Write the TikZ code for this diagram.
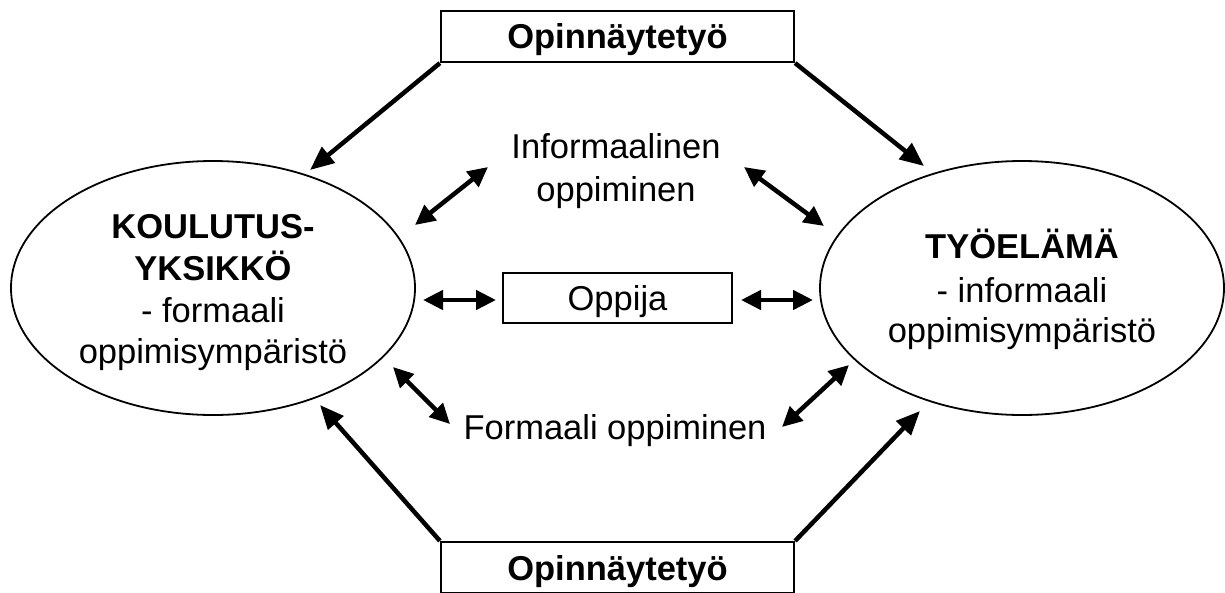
\documentclass[tikz,border=0pt]{standalone}
\usepackage{fontspec}
\setmainfont{Liberation Sans}
\usetikzlibrary{shapes.geometric,arrows.meta}
\begin{document}
\begin{tikzpicture}[x=1pt,y=-1pt,
  txt/.style={font=\fontsize{34.5}{41.5}\selectfont, inner sep=0pt},
  btxt/.style={font=\fontsize{34.5}{41.5}\selectfont\bfseries, inner sep=0pt},
  env/.style={draw, ellipse, line width=1.8pt, inner sep=0pt, minimum width=404pt, minimum height=254pt},
  boxed/.style={draw, line width=2.2pt, inner sep=0pt},
  bigarrow/.style={line width=4.5pt, -{Triangle[length=24pt,width=20pt]}},
  dblarrow/.style={line width=4.5pt, {Triangle[length=20pt,width=19pt]}-{Triangle[length=20pt,width=19pt]}}
]
\useasboundingbox (0,0) rectangle (1225,592);
\fill[white] (0,0) rectangle (1225,592);

% boxes
\node[boxed, minimum width=353pt, minimum height=51pt] (top) at (617.5,36.5) {};
\node[btxt, anchor=base] (toptxt) at (617.5,48) {Opinnäytetyö};
\node[boxed, minimum width=353pt, minimum height=51pt] (bot) at (617.5,567.5) {};
\node[btxt, anchor=base] (bottxt) at (617.5,580) {Opinnäytetyö};
\node[boxed, minimum width=229pt, minimum height=50pt] (oppija) at (617.5,298) {};
\node[txt, anchor=base] (oppijatxt) at (617.5,310) {Oppija};

% ellipses
\node[env] (koulu) at (213,288) {};
\node[btxt, anchor=base] (k1) at (213,238) {KOULUTUS-};
\node[btxt, anchor=base] (k2) at (213,280) {YKSIKKÖ};
\node[txt, anchor=base] (k3) at (213,322) {- formaali};
\node[txt, anchor=base] (k4) at (213,363) {oppimisympäristö};

\node[env] (tyo) at (1022,288) {};
\node[btxt, anchor=base] (t1) at (1022,258) {TYÖELÄMÄ};
\node[txt, anchor=base] (t2) at (1022,302) {- informaali};
\node[txt, anchor=base] (t3) at (1022,342) {oppimisympäristö};

% middle texts
\node[txt, anchor=base] (inf1) at (616,158) {Informaalinen};
\node[txt, anchor=base] (inf2) at (616,201) {oppiminen};
\node[txt, anchor=base] (form) at (615,439) {Formaali oppiminen};

% connector end points
\coordinate (tl) at (310,170);
\coordinate (tr) at (924,166);
\coordinate (bl) at (320,405);
\coordinate (br) at (920,411);
\coordinate (ila) at (415,225);
\coordinate (ilb) at (488,167);
\coordinate (ira) at (744,167);
\coordinate (irb) at (824,226);
\coordinate (ola) at (423,300);
\coordinate (olb) at (496,300);
\coordinate (ora) at (741,300);
\coordinate (orb) at (813,300);
\coordinate (fla) at (393,367);
\coordinate (flb) at (450,424);
\coordinate (fra) at (782,427);
\coordinate (frb) at (849,365);

\draw[bigarrow] (top.south west) -- (tl);
\draw[bigarrow] (top.south east) -- (tr);
\draw[bigarrow] (bot.north west) -- (bl);
\draw[bigarrow] (bot.north east) -- (br);

\draw[dblarrow] (ila) -- (ilb);
\draw[dblarrow] (ira) -- (irb);
\draw[dblarrow] (ola) -- (olb);
\draw[dblarrow] (ora) -- (orb);
\draw[dblarrow] (fla) -- (flb);
\draw[dblarrow] (fra) -- (frb);
\end{tikzpicture}
\end{document}
